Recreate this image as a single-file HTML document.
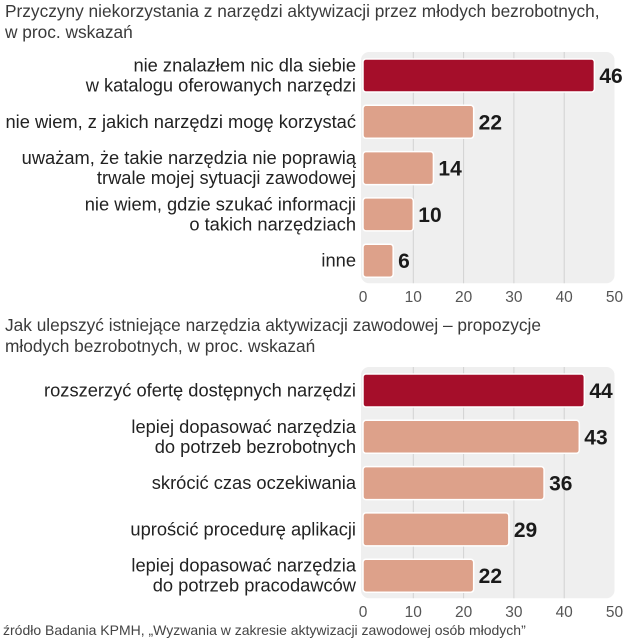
<!DOCTYPE html>
<html><head><meta charset="utf-8"><style>
body{margin:0;background:#fff;}
svg{display:block;font-family:"Liberation Sans",sans-serif;}
.t{font-size:17.3px;fill:#3a3a3a;}
.l{font-size:18.3px;fill:#222;}
.v{font-size:21px;font-weight:bold;fill:#1a1a1a;font-family:"Liberation Sans Narrow","Liberation Sans",sans-serif;}
.k{font-size:15.5px;fill:#555;}
.s{font-size:14px;fill:#444;}
</style></head><body>
<svg id="c" width="625" height="640">
<text class="t" x="5" y="17">Przyczyny niekorzystania z narzędzi aktywizacji przez młodych bezrobotnych,</text>
<text class="t" x="5" y="38">w proc. wskazań</text>
<text class="t" x="5" y="331">Jak ulepszyć istniejące narzędzia aktywizacji zawodowej – propozycje</text>
<text class="t" x="5" y="352">młodych bezrobotnych, w proc. wskazań</text>
<text class="s" x="3" y="635">źródło Badania KPMH, „Wyzwania w zakresie aktywizacji zawodowej osób młodych”</text>
</svg>
<script>
const cats1=[["nie znalazłem nic dla siebie","w katalogu oferowanych narzędzi"],["nie wiem, z jakich narzędzi mogę korzystać"],["uważam, że takie narzędzia nie poprawią","trwale mojej sytuacji zawodowej"],["nie wiem, gdzie szukać informacji","o takich narzędziach"],["inne"]];
const vals1=[46,22,14,10,6];
const cats2=[["rozszerzyć ofertę dostępnych narzędzi"],["lepiej dopasować narzędzia","do potrzeb bezrobotnych"],["skrócić czas oczekiwania"],["uprościć procedurę aplikacji"],["lepiej dopasować narzędzia","do potrzeb pracodawców"]];
const vals2=[44,43,36,29,22];
const ticks=[0,10,20,30,40,50];
const NS="http://www.w3.org/2000/svg",svg=document.getElementById('c');
function mk(t,a,p){const e=document.createElementNS(NS,t);for(const k in a)e.setAttribute(k,a[k]);(p||svg).appendChild(e);return e;}
const x0=363,pu=5.03;
const xs=v=>x0+v*pu;
function chart(cats,vals,top,idx){
  const g=mk('g',{});
  
  
  const step=46.3,bh=33,pTop=top-7,pBot=top+step*4+bh+6;
  const bg=mk('rect',{x:x0-2,y:pTop,width:xs(50)-x0+2,height:pBot-pTop,rx:8,fill:'#efefef'},g);
  
  
  ticks.forEach(t=>{
    if(t>0&&t<50){const gl=mk('line',{x1:xs(t),x2:xs(t),y1:pTop,y2:pBot,stroke:'#d2d2d2','stroke-width':1},g);
    
    }
    const tx=mk('text',{x:xs(t),y:pBot+19,'text-anchor':'middle',class:'k',fill:'#555'},g);
    
    
    tx.textContent=t;
  });
  vals.forEach((v,i)=>{
    const y=top+i*step;
    const b=mk('rect',{x:x0,y:y,width:xs(v)-x0,height:bh,rx:3,fill:i==0?'#a50e2a':'#dda18a',stroke:'#fff','stroke-width':1.5},g);
    
    
    const vt=mk('text',{x:xs(v)+5,y:y+bh/2+7.5,class:'v'},g);
    
    
    vt.textContent=v;
    const lines=cats[i],n=lines.length;
    lines.forEach((s,j)=>{
      const lt=mk('text',{x:356,y:y+bh/2+6+(j-(n-1)/2)*20,'text-anchor':'end',class:'l'},g);
      
      
      lt.textContent=s;
    });
  });
}
chart(cats1,vals1,59,1);
chart(cats2,vals2,374,2);
</script>
</body></html>
